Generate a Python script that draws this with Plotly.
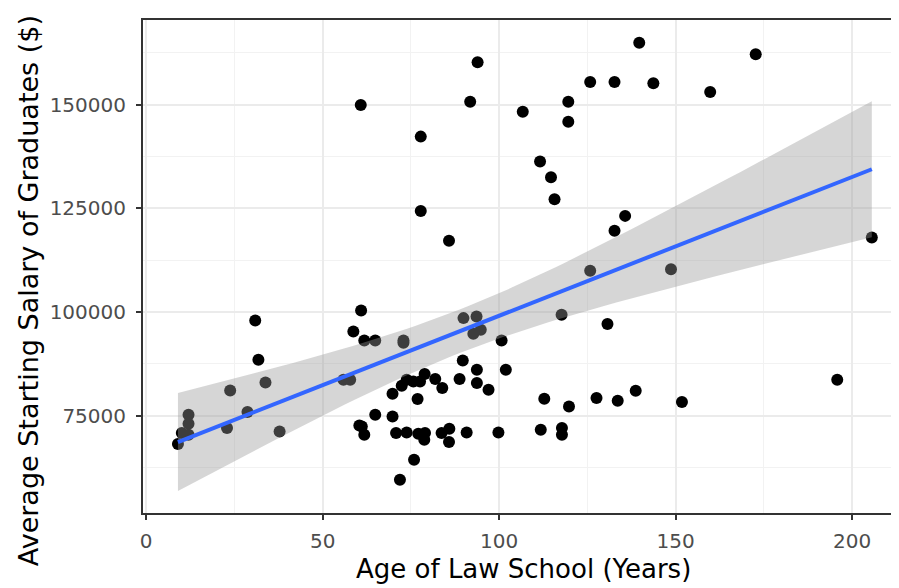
import numpy as np
import plotly.graph_objects as go

age = [30.9, 31.8, 33.8, 23.8, 28.7, 22.9, 37.8, 12.0, 12.0, 10.1, 12.0, 9.0,
       60.9, 58.7, 61.8, 64.9, 72.9, 72.9, 55.9, 57.8, 89.9, 93.6, 94.8, 92.7,
       100.7, 89.7, 93.7, 101.9, 88.8, 93.7, 97.0, 78.9, 81.9, 83.9, 73.8, 75.7,
       77.6, 72.4, 69.8, 76.9, 64.9, 69.8, 60.4, 61.1, 61.8, 70.8, 73.8, 77.1,
       79.0, 78.8, 83.7, 85.9, 85.8, 90.8, 99.8, 75.9, 71.9, 117.7, 130.7, 112.8,
       119.8, 127.6, 133.6, 138.7, 151.8, 111.8, 117.8, 117.8, 93.9, 60.8, 91.8,
       106.7, 119.6, 119.6, 77.8, 111.6, 114.7, 115.7, 77.8, 85.8, 139.7, 172.7,
       125.8, 132.7, 143.7, 159.8, 135.7, 132.7, 125.8, 148.7, 205.6, 195.8]

salary = [97950, 88490, 83020, 81090, 75890, 72040, 71220, 75240, 73070, 70830, 70420, 68180,
          100360, 95300, 93140, 93140, 93140, 92580, 83670, 83670, 98530, 98920, 95710, 94750,
          93140, 88320, 86080, 86080, 83840, 82880, 81260, 85040, 83840, 81670, 83670, 83260,
          83260, 82230, 80300, 79020, 75240, 74830, 72660, 72420, 70420, 70830, 70980, 70660,
          70830, 69220, 70830, 71870, 68670, 70980, 70980, 64400, 59590, 99330, 97090, 79090,
          77240, 79260, 78610, 81020, 78300, 71630, 72040, 70420, 160190, 149900, 150700,
          148290, 150700, 145880, 142270, 136250, 132490, 127190, 124370, 117150, 164910, 162115,
          155440, 155440, 155130, 153035, 123170, 119560, 109920, 110330, 117940, 83670]

x_ticks = [0, 50, 100, 150, 200]
y_ticks = [75000, 100000, 125000, 150000]
x_title = "Age of Law School (Years)"
y_title = "Average Starting Salary of Graduates ($)"

# linear model fit with 95% confidence band (like geom_smooth(method="lm"))
xa = np.array(age, dtype=float)
ya = np.array(salary, dtype=float)
n = len(xa)
b1, b0 = np.polyfit(xa, ya, 1)
resid = ya - (b0 + b1 * xa)
s = np.sqrt(np.sum(resid ** 2) / (n - 2))
xm = xa.mean()
sxx = np.sum((xa - xm) ** 2)
tq = 1.986
xs = np.linspace(xa.min(), xa.max(), 80)
yhat = b0 + b1 * xs
se = s * np.sqrt(1.0 / n + (xs - xm) ** 2 / sxx)
lo = yhat - tq * se
hi = yhat + tq * se

FONT = "DejaVu Sans, Liberation Sans, sans-serif"

fig = go.Figure()
fig.add_trace(go.Scatter(x=age, y=salary, mode="markers",
                         marker=dict(color="black", size=12, line=dict(width=0)),
                         showlegend=False, hoverinfo="skip"))
fig.add_trace(go.Scatter(x=np.concatenate([xs, xs[::-1]]), y=np.concatenate([hi, lo[::-1]]),
                         fill="toself", fillcolor="rgba(153,153,153,0.4)",
                         line=dict(width=0), mode="lines", showlegend=False, hoverinfo="skip"))
fig.add_trace(go.Scatter(x=xs, y=yhat, mode="lines",
                         line=dict(color="#3366FF", width=4), showlegend=False))

# page body has an 8px margin; figure is sized so the plot panel lands at
# x 143..899, y 20..513 of the window
fig.update_layout(
    width=891, height=580,
    margin=dict(l=135, r=0, t=12, b=75, autoexpand=False),
    paper_bgcolor="white", plot_bgcolor="white",
    font=dict(family=FONT),
    annotations=[
        dict(text=x_title, xref="paper", yref="paper", x=0.503, y=-0.1136,
             xanchor="center", yanchor="middle", showarrow=False,
             font=dict(size=26, color="black", family=FONT)),
        dict(text=y_title, xref="paper", yref="paper", x=-0.152, y=0.45,
             xanchor="center", yanchor="middle", showarrow=False, textangle=-90,
             font=dict(size=27, color="black", family=FONT)),
    ],
)
fig.update_xaxes(
    range=[-0.9, 213.3], tickvals=x_ticks, ticktext=[str(v) for v in x_ticks],
    showgrid=True, gridcolor="#ebebeb", gridwidth=2,
    minor=dict(dtick=25, tick0=0, showgrid=True, gridcolor="#f2f2f2", gridwidth=1),
    showline=True, linecolor="#333333", linewidth=2, mirror=True,
    ticks="outside", ticklen=5, tickwidth=1.5, tickcolor="#333333",
    tickfont=dict(size=20, color="#4d4d4d"), ticklabelstandoff=4,
    automargin=False, zeroline=False,
)
fig.update_yaxes(
    range=[51565, 170376], tickvals=y_ticks, ticktext=[str(v) for v in y_ticks],
    showgrid=True, gridcolor="#ebebeb", gridwidth=2,
    minor=dict(dtick=12500, tick0=62500, showgrid=True, gridcolor="#f2f2f2", gridwidth=1),
    showline=True, linecolor="#333333", linewidth=2,
    ticks="outside", ticklen=5, tickwidth=1.5, tickcolor="#333333",
    tickfont=dict(size=20, color="#4d4d4d"), ticklabelstandoff=6,
    automargin=False, zeroline=False,
)

fig.write_html("out.html")
